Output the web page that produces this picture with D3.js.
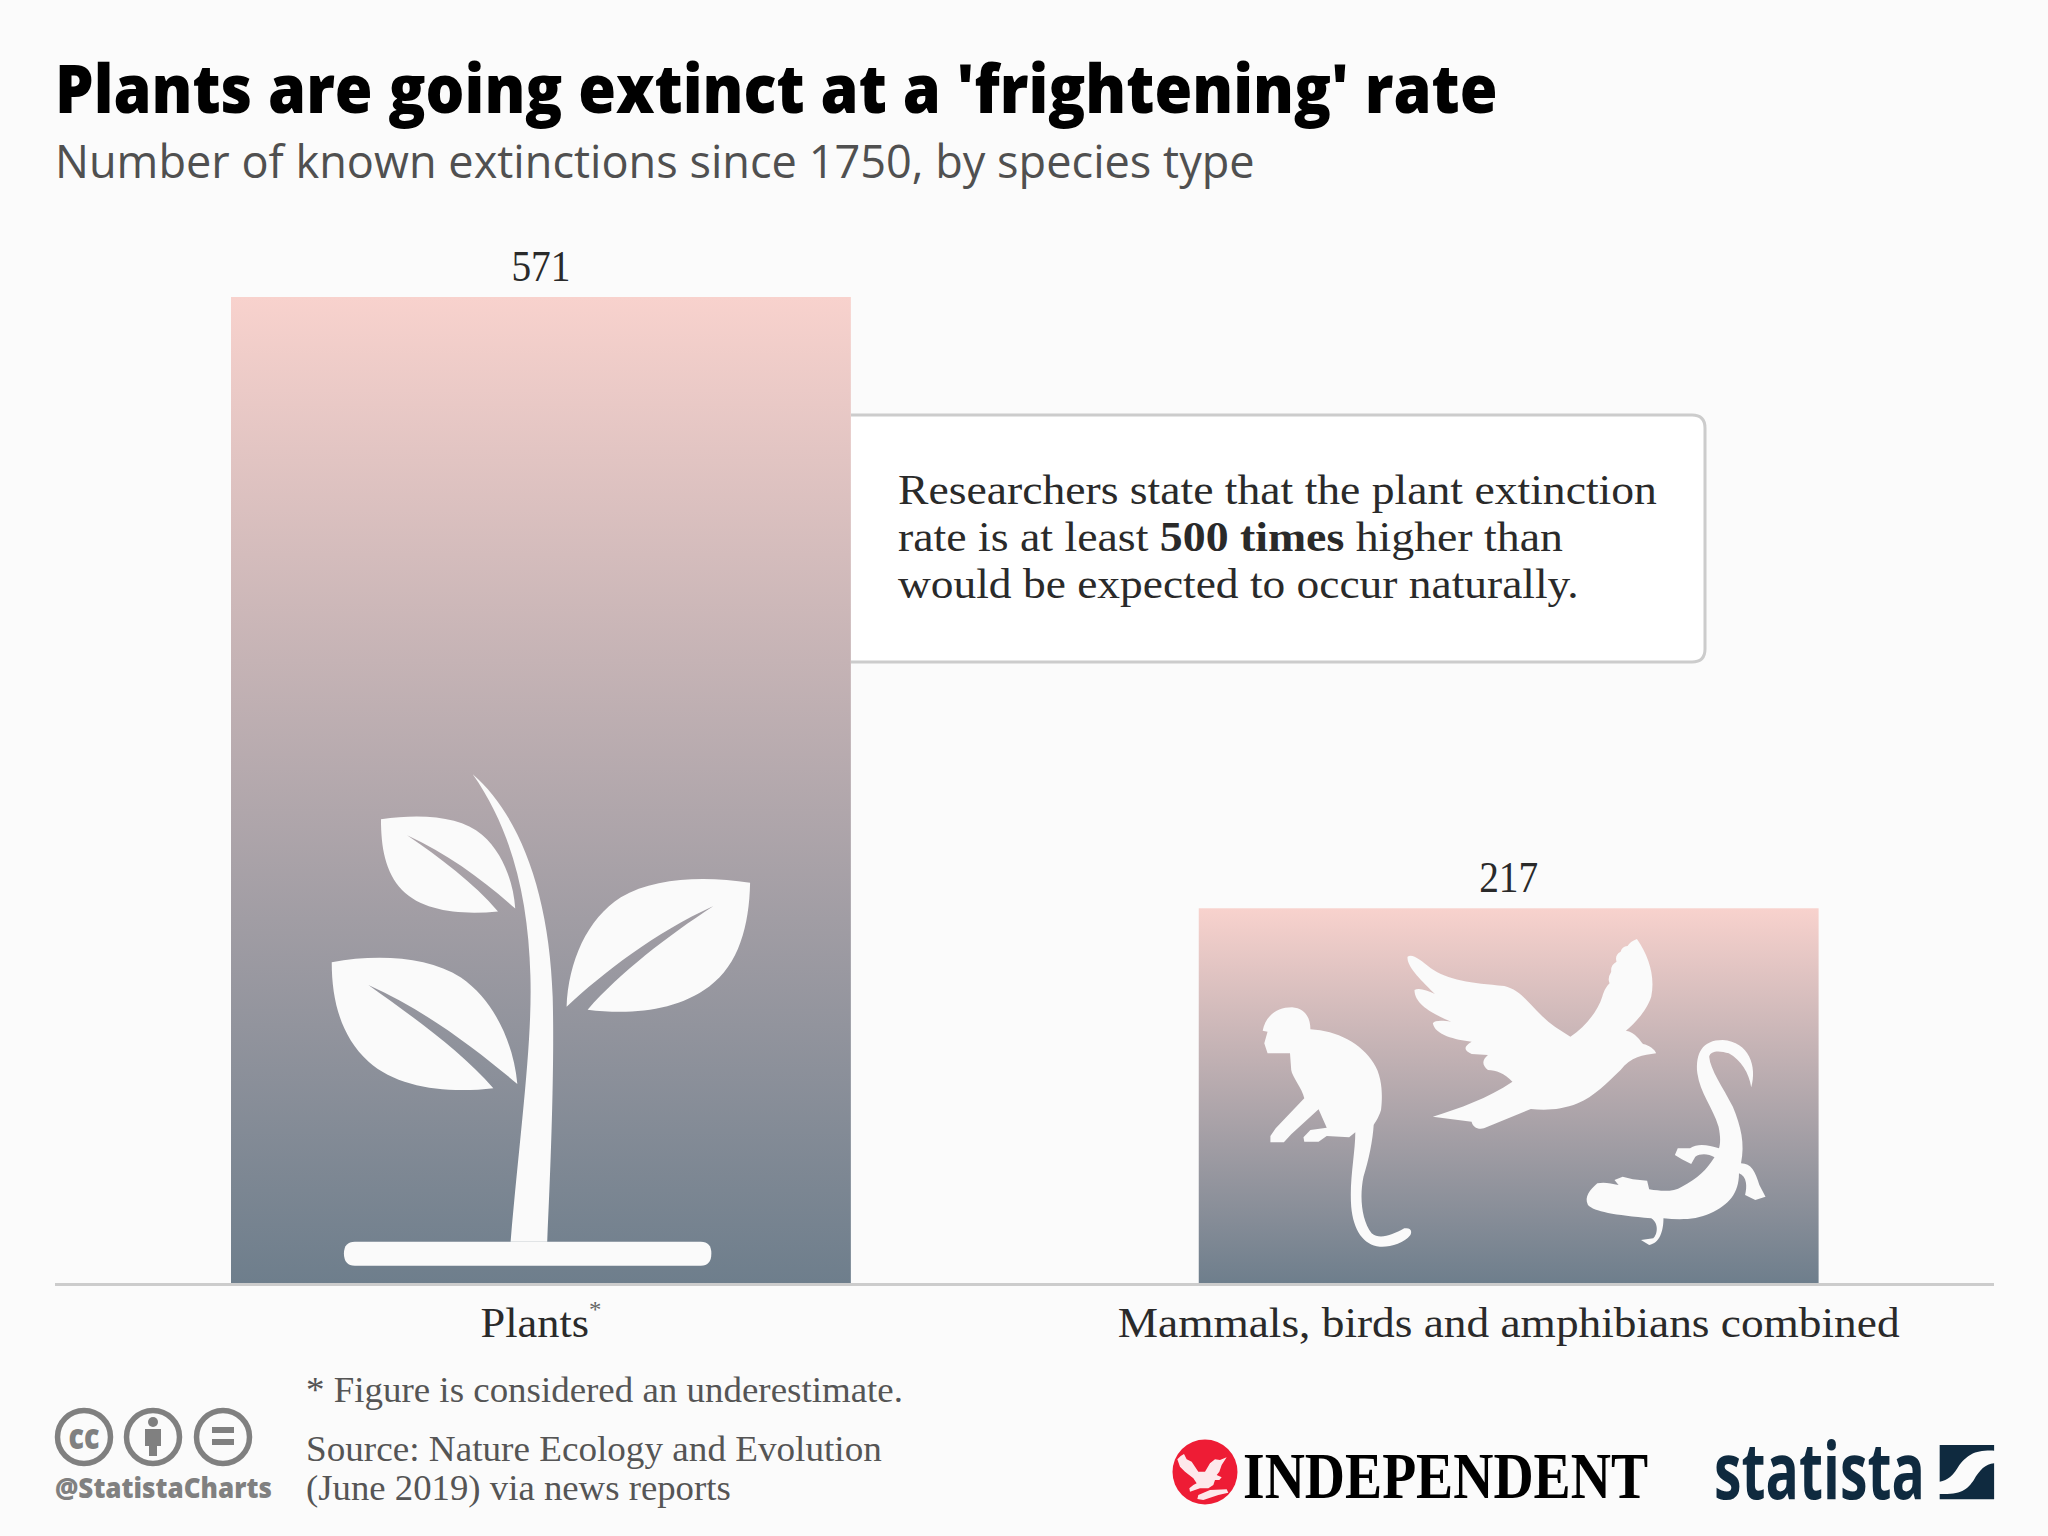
<!DOCTYPE html>
<html><head><meta charset="utf-8">
<script src="https://cdn.jsdelivr.net/npm/d3@7"></script>
<style>html,body{margin:0;background:#fbfbfb}svg{display:block}</style></head>
<body><svg id="c" width="2048" height="1536"></svg>
<script>
const categories = ["Plants", "Mammals, birds and amphibians combined"];
const extinctions = [571, 217];
const titleText = "Plants are going extinct at a 'frightening' rate";
const subtitleText = "Number of known extinctions since 1750, by species type";
const calloutLines = [
  [["Researchers state that the plant extinction", 400]],
  [["rate is at least ", 400], ["500 times", 700], [" higher than", 400]],
  [["would be expected to occur naturally.", 400]]
];
const noteText = "* Figure is considered an underestimate.";
const sourceLines = ["Source: Nature Ecology and Evolution", "(June 2019) via news reports"];

const SERIF = "'Liberation Serif',serif", SANS = "'Open Sans','Noto Sans',sans-serif";
const svg = d3.select("#c");
svg.append("rect").attr("width",2048).attr("height",1536).attr("fill","#fbfbfb");
const defs = svg.append("defs");
const grad = defs.append("linearGradient").attr("id","barGrad").attr("x1",0).attr("x2",0).attr("y1",0).attr("y2",1);
grad.append("stop").attr("offset",0).attr("stop-color","#f8d2cd");
grad.append("stop").attr("offset",1).attr("stop-color","#6e7e8c");

// scales
const y = d3.scaleLinear().domain([0,571]).range([1283,297]);
const x = d3.scaleBand().domain(categories).range([231,1818.6]).paddingInner(0.3595).paddingOuter(0);

// place a text so that its drawn width equals w
function fit(sel, px, py, w, anchor){
  sel.attr("text-anchor", anchor||"start").attr("x",0).attr("y",0);
  const k = w / sel.node().getBBox().width;
  sel.attr("transform", `translate(${px},${py}) scale(${k},1)`);
  return sel;
}
function label(str, size, weight, fill, family, px, py, w, anchor){
  return fit(svg.append("text").text(str).attr("font-size",size).attr("font-weight",weight)
    .attr("fill",fill).attr("font-family",family), px, py, w, anchor);
}

// headings
label(titleText, 67, 800, "#000", SANS, 55, 113, 1443);
label(subtitleText, 45, 400, "#505050", SANS, 55, 178, 1200);

// callout
svg.append("path").attr("d","M851,415H1692Q1705,415 1705,428V649Q1705,662 1692,662H851Z")
  .attr("fill","#fff").attr("stroke","none");
svg.append("path").attr("d","M851,415H1692Q1705,415 1705,428V649Q1705,662 1692,662H851")
  .attr("fill","none").attr("stroke","#cccccc").attr("stroke-width",3);
const calloutY = [504,551,598], calloutW = [759,665,681];
calloutLines.forEach((runs,i)=>{
  const t = svg.append("text").attr("font-size",43).attr("font-family",SERIF).attr("fill","#2a2a2a");
  runs.forEach(r=>t.append("tspan").text(r[0]).attr("font-weight",r[1]));
  t.attr("style","white-space:pre");
  fit(t, 898, calloutY[i], calloutW[i]);
});

// bars
svg.selectAll("rect.bar").data(extinctions).join("rect").attr("class","bar")
  .attr("x",(d,i)=>x(categories[i])).attr("width",x.bandwidth())
  .attr("y",d=>y(d)).attr("height",d=>y(0)-y(d)).attr("fill","url(#barGrad)");
const valueWidth = 59;
svg.selectAll("text.val").data(extinctions).join("text").attr("class","val")
  .text(d=>d).attr("font-size",44).attr("font-family",SERIF).attr("fill","#2a2a2a")
  .each(function(d,i){ fit(d3.select(this), x(categories[i])+x.bandwidth()/2, y(d)-16, valueWidth, "middle"); });

// icons (decoration, authored in the coordinates of their own crop)
const ICON = "#fafafa";
const plant = svg.append("g").attr("transform","translate(200,740) scale(0.42088,0.35714)").attr("fill",ICON);
[
 "M648,96C760,210 830,430 838,720C842,900 835,1150 825,1405L738,1405C760,1100 790,850 785,660C780,440 740,250 648,96Z",
 "M368,1405L1190,1405Q1215,1405 1215,1438Q1215,1472 1190,1472L368,1472Q342,1472 342,1438Q342,1405 368,1405Z",
 "M430,222C530,205 620,215 670,265C720,315 745,400 749,472C670,390 590,320 492,267C570,330 650,400 708,480C620,490 530,480 480,420C440,370 430,300 430,222Z",
 "M313,622C420,600 540,605 620,665C700,730 745,850 754,963C660,870 540,760 400,686C500,770 620,870 697,975C590,990 470,975 400,900C335,830 313,730 313,622Z",
 "M1307,400C1200,380 1080,385 1000,440C920,500 875,620 871,747C960,650 1080,540 1220,465C1110,550 1000,650 921,755C1020,770 1130,760 1210,690C1280,630 1305,520 1307,400Z"
].forEach(d=>plant.append("path").attr("d",d));

const animals = svg.append("g").attr("transform","translate(1190,900) scale(0.40816,0.33333)").attr("fill",ICON);
[
 // monkey
 "M178,392C185,350 210,322 250,322C280,325 295,350 295,388C360,392 420,430 450,490C472,530 472,590 468,630C462,655 452,670 450,675C448,720 438,780 425,830C415,890 420,960 445,1000C465,1020 495,1005 525,985C540,982 545,992 540,1005C525,1030 490,1042 465,1040C425,1035 400,990 395,920C390,840 405,760 405,697L390,712L335,708L315,725L280,725L278,712L295,690L335,683L315,628L248,703L230,727L197,727L197,708L210,685L280,595C275,565 250,530 248,510L245,460L190,460L182,430L190,395Z",
 // bird
 "M533,170C545,160 565,180 590,205C630,240 690,250 770,258C810,270 830,310 860,345C880,370 905,390 932,410C970,380 1000,330 1010,290C1015,270 1020,260 1028,250Q1022,235 1032,215Q1030,195 1045,185Q1040,165 1055,155Q1058,140 1072,138Q1078,125 1095,117C1125,170 1140,230 1130,290C1120,330 1090,370 1068,392C1090,395 1105,425 1110,432C1125,435 1140,450 1142,460C1110,465 1080,470 1055,510C1020,550 990,590 950,610C910,630 870,632 835,627L720,685C705,690 692,680 690,665L595,650C660,625 730,595 790,545C770,520 750,510 730,510C715,495 715,480 730,465L690,462C670,450 670,440 690,425C650,420 600,405 595,370C600,360 620,362 640,365C590,340 550,310 550,270C560,262 580,270 600,282C570,245 530,200 533,170Z",
 // salamander
 "M1375,562C1390,500 1370,425 1305,420C1255,420 1238,460 1243,520C1250,580 1280,620 1295,680C1300,710 1300,730 1296,745C1270,735 1245,728 1225,745L1195,745L1188,765L1205,778L1228,792L1238,770C1250,760 1270,760 1285,772C1265,810 1245,835 1205,860C1185,875 1160,875 1125,868L1120,842L1085,838L1060,830L1040,840L1050,855C1030,850 1015,845 998,850C980,870 965,890 975,915C990,935 1040,945 1130,955C1150,970 1145,1005 1135,1015L1105,1020L1125,1035C1150,1030 1160,995 1160,955C1200,960 1240,960 1275,940C1320,915 1345,880 1345,820C1365,830 1365,860 1360,885L1385,900L1410,890L1395,855C1385,815 1375,790 1350,790C1360,730 1350,680 1330,620C1305,560 1275,510 1272,470C1275,450 1300,452 1320,460C1350,480 1370,520 1375,562Z"
].forEach(d=>animals.append("path").attr("d",d));

// axis
const axis = d3.axisBottom(x).tickSize(0).tickPadding(0);
const gx = svg.append("g").attr("transform",`translate(0,${y(0)})`).call(axis);
gx.select(".domain").remove();
const axisW = [121, 782];
gx.selectAll(".tick text").each(function(d,i){
  const t = d3.select(this).attr("dy",0).attr("font-size",43).attr("font-family",SERIF).attr("fill","#2a2a2a");
  if(i===0){ t.append("tspan").text("*").attr("font-size",24).attr("dy",-20).attr("fill","#666"); }
  fit(t, 0, 54, axisW[i], "middle");
});
svg.append("line").attr("x1",55).attr("x2",1994).attr("y1",y(0)+1.5).attr("y2",y(0)+1.5).attr("stroke","#cccccc").attr("stroke-width",3);

// notes
label(noteText, 36, 400, "#555", SERIF, 306, 1402, 597);
const srcY = [1461,1500], srcW = [576,425];
sourceLines.forEach((s,i)=>label(s, 36, 400, "#555", SERIF, 306, srcY[i], srcW[i]));

// licence marks
const G = "#808080";
[84,153,223].forEach(cx=>svg.append("circle").attr("cx",cx).attr("cy",1437).attr("r",26.5)
  .attr("fill","none").attr("stroke",G).attr("stroke-width",5.5));
label("cc", 36, 800, G, SANS, 84, 1449, 31, "middle");
svg.append("circle").attr("cx",153).attr("cy",1422).attr("r",5).attr("fill",G);
svg.append("path").attr("d","M145,1429H161V1446H157V1456H149V1446H145Z").attr("fill",G);
svg.append("rect").attr("x",212).attr("y",1427).attr("width",22).attr("height",6).attr("fill",G);
svg.append("rect").attr("x",212).attr("y",1439).attr("width",22).attr("height",6).attr("fill",G);
label("@StatistaCharts", 28, 800, G, SANS, 55, 1498, 217);

// Independent logo
svg.append("circle").attr("cx",1205).attr("cy",1472).attr("r",32.5).attr("fill","#ee1c35");
const eagle = svg.append("g").attr("transform","translate(1160,1430) scale(0.33333)").attr("fill","#fff").attr("opacity",0.9);
eagle.append("path").attr("d","M52,88L62,78L72,72L80,88L95,95L115,125L135,125L150,100L165,88L180,90L200,82L185,105L178,125L170,135L185,142L178,150L165,150L160,165L145,175L120,175L90,185L88,175L100,165L110,160L100,145L75,125L60,110Z");
eagle.append("path").attr("d","M115,195L150,180L200,178L205,188L175,195L130,210L112,207Z");
label("INDEPENDENT", 65, 700, "#000", SERIF, 1243, 1498, 405);

// Statista logo
label("statista", 78, 700, "#0f2a3f", SANS, 1714, 1499, 211);
const mark = svg.append("g").attr("transform","translate(1140,1400) scale(0.57906,0.33333)").attr("fill","#0f2a3f");
mark.append("path").attr("d","M1381,135L1475,135L1475,152C1440,150 1430,165 1415,195C1405,225 1395,242 1381,245Z");
mark.append("path").attr("d","M1475,190L1475,298L1381,298L1381,282C1420,285 1430,265 1440,240C1450,210 1460,192 1475,190Z");
</script></body></html>
